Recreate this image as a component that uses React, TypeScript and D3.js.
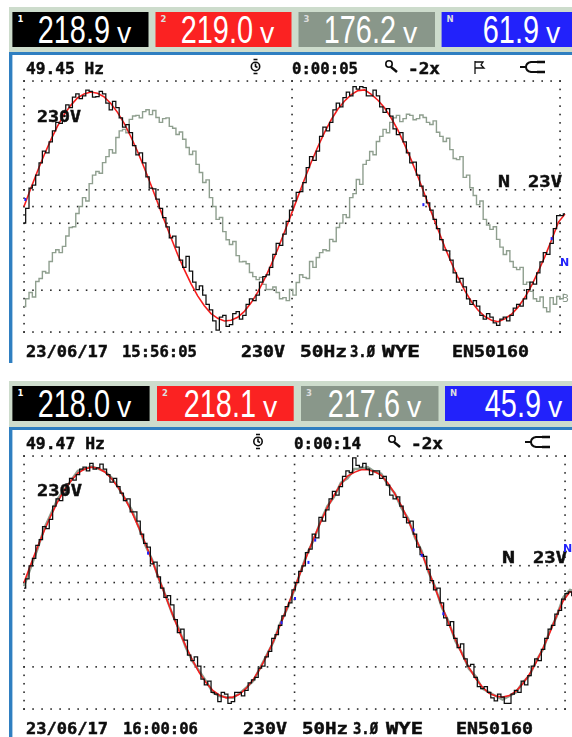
import React from "react";
import * as d3 from "d3";

const COARSE_MS = 0.5;
const FINE_MS = 0.25;
const readingsA = ["218.9", "219.0", "176.2", "61.9"];
const readingsB = ["218.0", "218.1", "217.6", "45.9"];
const channelNames = ["1", "2", "3", "N"];
const channelColors = ["#000000", "#fb2222", "#89978a", "#2222fb"];

const black1 = [-45,-5,50,58,85,118,150,145,175,205,228,225,255,275,268,296,305,292,300,315,312,296,298,312,305,280,262,285,268,240,215,222,200,165,140,145,118,80,50,48,20,
  -5,-30,-55,-85,-80,-110,-145,-165,-135,-175,-205,-225,-215,-240,-265,-280,-310,-335,-300,-295,-325,-320,-290,-285,-305,-295,-265,-250,-255,-240,-205,-190,-185,-165,-130,-100,-105,-75,-40,-10,
  15,38,40,65,105,135,125,150,190,215,205,228,262,280,270,295,310,300,325,318,325,322,300,300,315,300,270,255,265,245,210,195,200,175,145,118,120,85,55,28,
  10,-10,-35,-60,-90,-118,-120,-145,-180,-205,-195,-218,-250,-265,-255,-270,-295,-305,-290,-300,-315,-322,-305,-300,-310,-295,-275,-265,-270,-250,-225,-205,-210,-180,-150,-125,-130,-100,-60,-25,-25,-20];
const red1 = [0,48,95,139,180,217,249,274,294,305,310,307,297,279,255,225,189,149,105,59,11,
  -37,-84,-130,-171,-209,-242,-269,-290,-303,-310,-308,-300,-284,-261,-232,-197,-158,-115,-69,-22,
  26,74,120,162,201,235,264,286,303,314,316,304,288,267,239,206,167,125,80,32,-16,-63,-110,-153,-193,-228,-258,-281,-298,-308,-312,-304,-292,-272,-246,-214,-176,-135,-90,-43,-20];
const gray1 = [-271,-250,-233,-245,-203,-195,-176,-180,-149,-125,-117,-125,-108,-80,-57,-55,-19,0,24,15,
  62,85,95,90,119,135,154,145,187,205,209,200,236,245,247,240,257,262,249,260,
  241,228,238,240,217,212,195,202,182,160,141,150,114,92,65,72,24,0,-35,-30,
  -68,-90,-103,-95,-133,-150,-149,-155,-179,-190,-198,-192,-211,-225,-225,-218,-233,-250,-247,-255,
  -225,-240,-206,-185,-192,-195,-149,-165,-138,-125,-117,-120,-89,-95,-57,-45,-22,-30,24,35,
  73,60,114,125,149,140,176,190,209,200,228,240,247,230,238,250,247,235,238,248,
  241,228,222,232,201,190,176,185,154,130,127,135,79,85,51,30,5,15,-35,-50,
  -62,-55,-89,-110,-130,-120,-149,-165,-171,-165,-211,-205,-230,-250,-257,-245,-274,-285,-247,-265,
  -244,-250,-238];

const black2 = [-15,10,45,65,100,115,150,145,170,205,225,220,240,265,280,275,290,305,310,300,
  320,305,308,318,305,290,270,280,258,240,220,225,190,190,165,130,105,95,50,55,
  15,-15,-40,-35,-60,-100,-135,-125,-155,-195,-210,-200,-225,-260,-275,-265,-295,-300,-320,-295,
  -300,-325,-320,-295,-295,-305,-290,-270,-262,-255,-230,-225,-200,-185,-150,-140,-115,-90,-65,-55,
  -20,0,30,45,80,90,130,120,175,165,195,225,245,235,258,285,300,295,335,315,
  310,320,305,290,300,300,280,285,262,235,225,230,205,175,160,165,130,95,75,70,
  35,5,-20,-15,-55,-95,-115,-105,-150,-175,-165,-205,-225,-220,-255,-280,-285,-280,-295,-310,
  -318,-300,-308,-325,-325,-300,-290,-295,-265,-275,-250,-225,-205,-210,-180,-150,-125,-115,-85,-75,
  -45,-30,-25,-35,-30];
const red2 = [0,48,95,139,180,217,249,274,294,305,310,307,297,279,255,225,189,149,105,59,11,-37,-84,-130,-171,-209,-242,-269,-290,-303,-310,-308,-300,-284,-261,-232,-197,-158,-115,-69,-22,26,74,120,162,201,235,264,286,296,303,303,298,288,267,239,206,167,125,80,32,-16,-63,-110,-153,-193,-228,-258,-281,-298,-305,-308,-304,-292,-272,-246,-214,-176,-135,-90,-49,-25,-28];
const gray2 = [-10,40,90,145,185,225,250,275,300,305,312,306,298,282,255,225,195,150,100,62,10,-35,-85,-125,-175,-212,-238,-265,-295,-305,-308,-310,-298,-282,-265,-230,-195,-160,-110,-72,-25,28,78,115,165,205,230,268,280,305,305,310,298,292,262,240,200,172,120,85,28,-12,-68,-105,-158,-190,-232,-252,-285,-295,-305,-315,-305,-295,-268,-250,-210,-180,-130,-92,-40,-20,-25];

const blueTimes1 = [0.1, 29.9, 39.5];
const blueVolts1 = [19, 5, -87];
const blueTimes2 = [9.2, 19.1, 20.1, 21.6, 21.1, 28.9, 31.1, 29.5];
const blueVolts2 = [79, -108, -43, 114, 54, 141, -84, 73];

const gridRows = [0, 13, 15, 17, 25, 30];
const gridCols = [0, 30, 60];
const mono = "'DejaVu Sans Mono', monospace";

type L = { x: number; w: number; t: string; y: number; fs?: number };

function Label({ x, w, y, t, fs = 15 }: L) {
  return (
    <text x={x} y={y} fontFamily={mono} fontWeight={700} fontSize={fs} fill="#111" stroke="#111" strokeWidth={0.45}
      textLength={w} lengthAdjust="spacingAndGlyphs">{t}</text>
  );
}

function Clock({ x, y }: { x: number; y: number }) {
  return (
    <g fill="none" stroke="#111" strokeWidth={1.6}>
      <circle cx={x} cy={y} r={4.2} />
      <path d={`M${x - 2},${y - 7}H${x + 2}M${x - 2},${y + 7}H${x + 2}M${x},${y - 3}V${y}L${x + 2},${y + 1}`} />
    </g>
  );
}
function Magnifier({ x, y }: { x: number; y: number }) {
  return (
    <g fill="none" stroke="#111" strokeWidth={1.6}>
      <circle cx={x + 4} cy={y - 2} r={3.2} />
      <path strokeWidth={2.4} d={`M${x + 6},${y + 1}L${x + 12},${y + 6}`} />
    </g>
  );
}
function Plug({ x, y }: { x: number; y: number }) {
  return (
    <g fill="none" stroke="#111" strokeWidth={2}>
      <path d={`M${x},${y}H${x + 7}`} />
      <path d={`M${x + 17},${y - 5}H${x + 11}Q${x + 6},${y - 4} ${x + 6},${y}Q${x + 6},${y + 4} ${x + 11},${y + 5}H${x + 17}`} />
      <path d={`M${x + 17},${y - 5}H${x + 25}M${x + 17},${y + 5}H${x + 25}`} strokeWidth={2.4} />
    </g>
  );
}

function Reading({ x0, x1, y0, y1, i, value, digitsEnd }: { x0: number; x1: number; y0: number; y1: number; i: number; value: string; digitsEnd: number }) {
  return (
    <g>
      <rect x={x0} y={y0} width={x1 - x0} height={y1 - y0} fill={channelColors[i]} />
      <text x={x0 + 5} y={y0 + 10} fontFamily="'DejaVu Sans'" fontSize={8.5} fontWeight={700}
        fill={i === 0 ? "#fff" : "#ddd"}>{channelNames[i]}</text>
      <g transform={`translate(${digitsEnd},${y0 + 31}) scale(0.76,1)`}>
        <text textAnchor="end" fontFamily="'Liberation Sans'" fontSize={38} fill="#fff">{value}</text>
      </g>
      <g transform={`translate(${digitsEnd + 7},${y0 + 31}) scale(0.95,1)`}>
        <text fontFamily="'Liberation Sans'" fontSize={30} fill="#fff">v</text>
      </g>
    </g>
  );
}

type PanelProps = {
  top: number; bottom: number; headY: number; headH: number; xL: number; xR: number; yT: number; yB: number;
  boxes: number[][]; readings: string[]; ends: number[];
  black: number[]; red: number[]; gray: number[]; blueT: number[]; blueV: number[];
  grayMs: number; grayStepped: boolean; grayWidth: number;
};

function Panel(p: PanelProps) {
  const x = d3.scaleLinear().domain([0, 40.5]).range([p.xL, p.xR + 5]);
  const y = d3.scaleLinear().domain([340, -340]).range([p.yT, p.yB]);
  const gx = d3.scaleLinear().domain([0, 60]).range([p.xL, p.xR]);
  const gy = d3.scaleLinear().domain([0, 30]).range([p.yT, p.yB]);
  const fine = d3.line<number>().x((_, i) => x(i * FINE_MS)).y((d) => y(d)).curve(d3.curveStep);
  const coarse = d3.line<number>().x((_, i) => x(i * COARSE_MS)).y((d) => y(d));
  const grayLine = p.grayStepped ? fine : coarse;
  const dots: [number, number][] = [];
  gridRows.forEach((r) => d3.range(0, 61).forEach((c) => dots.push([gx(c), gy(r)])));
  gridCols.forEach((c) => d3.range(0, 31).forEach((r) => dots.push([gx(c), gy(r)])));
  return (
    <g>
      <rect x={9} y={p.headY} width={563} height={p.headH} fill="#cddccc" />
      {p.boxes.map((b, i) => (
        <Reading key={i} x0={b[0]} x1={b[1]} y0={p.headY + 5} y1={p.headY + 40} i={i} value={p.readings[i]} digitsEnd={p.ends[i]} />
      ))}
      <rect x={9} y={p.top} width={563} height={3} fill="#2f7fc1" />
      <rect x={9} y={p.top} width={3.4} height={p.bottom - p.top} fill="#2f7fc1" />
      {dots.map((d, i) => <rect key={i} x={d[0] - 0.75} y={d[1] - 0.75} width={1.6} height={1.6} fill="#2a2a2a" />)}
      <g filter="url(#soft)">
        <path d={grayLine(p.gray)!} fill="none" stroke="#8f9f8f" strokeWidth={p.grayWidth} />
        <path d={coarse(p.red)!} fill="none" stroke="#f61f1f" strokeWidth={1.6} />
        <path d={fine(p.black)!} fill="none" stroke="#111" strokeWidth={1.25} />
        {p.blueT.map((t, i) => <rect key={i} x={x(t) - 1} y={y(p.blueV[i]) - 1.5} width={2} height={3} fill="#2222fb" />)}
      </g>
    </g>
  );
}

export default function App() {
  return (
    <svg width={572} height={737} viewBox="0 0 572 737" style={{ position: "absolute", left: 0, top: 0, background: "#fff" }}>
      <defs>
        <filter id="soft" x="-5%" y="-5%" width="110%" height="110%"><feGaussianBlur stdDeviation={0.35} /></filter>
      </defs>
      <Panel top={52} bottom={363} headY={7} headH={45} xL={24} xR={560} yT={81} yB={332}
        boxes={[[12.4, 148.5], [155.5, 291.5], [298.5, 435], [441.6, 572]]} readings={readingsA} ends={[110, 253, 396, 539]}
        black={black1} red={red1} gray={gray1} blueT={blueTimes1} blueV={blueVolts1} grayMs={FINE_MS} grayStepped={true} grayWidth={1.4} />
      <Panel top={427} bottom={737} headY={381} headH={46} xL={24} xR={565} yT={456} yB={709}
        boxes={[[12.4, 149.6], [157, 293.7], [301, 438.5], [445, 572]]} readings={readingsB} ends={[110, 256, 400, 541]}
        black={black2} red={red2} gray={gray2} blueT={blueTimes2} blueV={blueVolts2} grayMs={COARSE_MS} grayStepped={false} grayWidth={2.4} />
      <g filter="url(#soft)">
        <Label x={26} w={78} y={74} t="49.45 Hz" />
        <Clock x={255.5} y={66.5} />
        <Label x={292} w={66} y={74} t="0:00:05" />
        <Magnifier x={385} y={66} />
        <Label x={408} w={32} y={74} t="-2x" />
        <path d="M475,61V74M475,62H483L481,65L484,68H475" fill="none" stroke="#111" strokeWidth={1.3} />
        <Plug x={520} y={67} />
        <Label x={37} w={44} y={122} t="230V" />
        <Label x={498} w={12} y={187} t="N" />
        <Label x={528} w={34} y={187} t="23V" />
        <Label x={26} w={82} y={357} t="23/06/17" />
        <Label x={122} w={75} y={357} t="15:56:05" />
        <Label x={241} w={44} y={357} t="230V" />
        <Label x={300} w={47} y={357} t="50Hz" />
        <Label x={350} w={25} y={357} t="3.Ø" />
        <Label x={382} w={38} y={357} t="WYE" />
        <Label x={452} w={77} y={357} t="EN50160" />
        <text x={560} y={266} fontFamily="'DejaVu Sans'" fontWeight={700} fontSize={11} fill="#2222fb">N</text>
        <text x={562} y={302} fontFamily="'DejaVu Sans'" fontSize={11} fill="#89978a">3</text>

        <Label x={26} w={79} y={449} t="49.47 Hz" />
        <Clock x={258} y={441.5} />
        <Label x={294} w={67} y={449} t="0:00:14" />
        <Magnifier x={388} y={441} />
        <Label x={411} w={32} y={449} t="-2x" />
        <Plug x={525} y={442} />
        <Label x={37} w={45} y={496} t="230V" />
        <Label x={502} w={13} y={563} t="N" />
        <Label x={533} w={34} y={563} t="23V" />
        <Label x={26} w={82} y={734} t="23/06/17" />
        <Label x={123} w={75} y={734} t="16:00:06" />
        <Label x={243} w={44} y={734} t="230V" />
        <Label x={302} w={46} y={734} t="50Hz" />
        <Label x={353} w={25} y={734} t="3.Ø" />
        <Label x={386} w={37} y={734} t="WYE" />
        <Label x={456} w={77} y={734} t="EN50160" />
        <text x={563} y={552} fontFamily="'DejaVu Sans'" fontWeight={700} fontSize={11} fill="#2222fb">N</text>
      </g>
    </svg>
  );
}
